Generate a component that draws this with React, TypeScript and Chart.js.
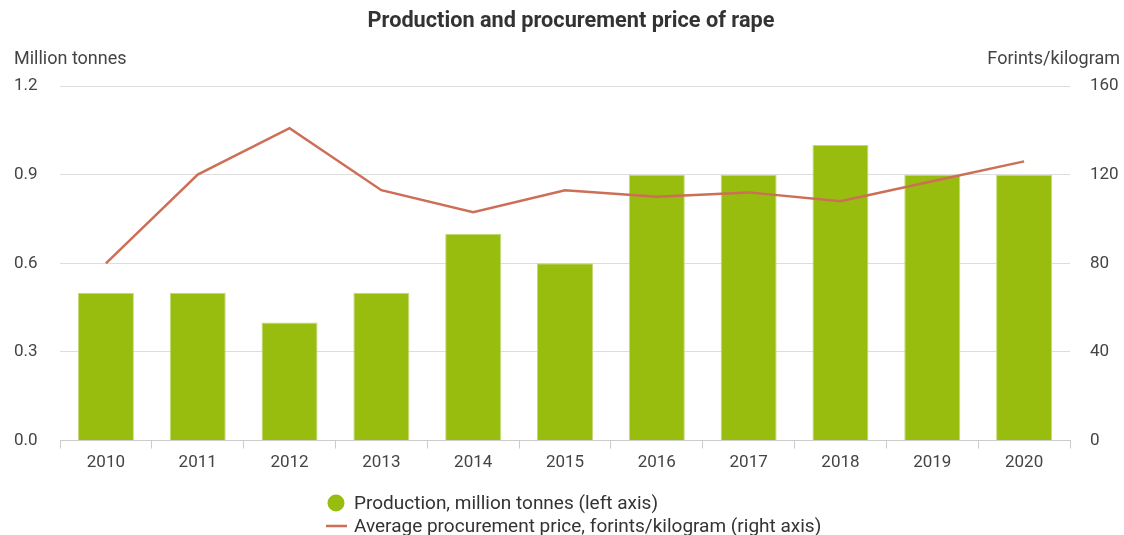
import React, { useEffect, useRef } from "react";
import { Chart, registerables } from "chart.js";

Chart.register(...registerables);

const years = ["2010", "2011", "2012", "2013", "2014", "2015", "2016", "2017", "2018", "2019", "2020"];
const production = [0.5, 0.5, 0.4, 0.5, 0.7, 0.6, 0.9, 0.9, 1.0, 0.9, 0.9];
const price = [80, 120, 141, 113, 103, 113, 110, 112, 108, 117, 126];
const title = "Production and procurement price of rape";
const leftAxisTitle = "Million tonnes";
const rightAxisTitle = "Forints/kilogram";
const productionLabel = "Production, million tonnes (left axis)";
const priceLabel = "Average procurement price, forints/kilogram (right axis)";

const FONT = "Roboto, 'Noto Sans', sans-serif";
const GREEN = "#98bd0e";
const RED = "#cd6f57";

export default function App() {
  const ref = useRef<HTMLCanvasElement | null>(null);
  useEffect(() => {
    document.body.style.margin = "0";
    const canvas = ref.current!;
    const overlay = {
      id: "overlay",
      afterDraw(chart: any) {
        const ctx = chart.ctx;
        ctx.save();
        ctx.fillStyle = "#333";
        ctx.font = `bold 21.7px ${FONT}`;
        ctx.textAlign = "center";
        ctx.textBaseline = "middle";
        ctx.fillText(title, 571, 22);
        ctx.font = `18px ${FONT}`;
        ctx.fillStyle = "#444";
        ctx.textAlign = "left";
        ctx.fillText(leftAxisTitle, 14, 59);
        ctx.textAlign = "right";
        ctx.fillText(rightAxisTitle, 1120, 59);
        // legend
        ctx.font = `19px ${FONT}`;
        ctx.fillStyle = GREEN;
        ctx.beginPath();
        ctx.arc(336, 503, 8.5, 0, Math.PI * 2);
        ctx.fill();
        ctx.strokeStyle = RED;
        ctx.lineWidth = 2.5;
        ctx.beginPath();
        ctx.moveTo(326, 526);
        ctx.lineTo(347, 526);
        ctx.stroke();
        ctx.fillStyle = "#333";
        ctx.textAlign = "left";
        ctx.fillText(productionLabel, 354, 504);
        ctx.fillText(priceLabel, 354, 527);
        ctx.restore();
      },
    };
    const chart = new Chart(canvas, {
      data: {
        labels: years,
        datasets: [
          {
            type: "line",
            label: priceLabel,
            data: price,
            yAxisID: "y1",
            borderColor: RED,
            borderWidth: 2.5,
            pointRadius: 0,
            tension: 0,
            order: 0,
          },
          {
            type: "bar",
            label: productionLabel,
            data: production,
            yAxisID: "y",
            backgroundColor: GREEN,
            borderColor: "#c4da7a",
            borderWidth: 1,
            barPercentage: 0.61,
            categoryPercentage: 1,
            order: 1,
          },
        ],
      } as any,
      plugins: [overlay],
      options: {
        animation: false,
        responsive: false,
        maintainAspectRatio: false,
        layout: { padding: { top: 86, left: 14, right: 4, bottom: 58 } },
        plugins: { legend: { display: false }, title: { display: false }, tooltip: { enabled: false } },
        scales: {
          x: {
            offset: true,
            grid: { display: true, drawOnChartArea: false, drawTicks: true, tickLength: 8, color: "#cccccc", offset: true },
            border: { display: true, color: "#cccccc" },
            ticks: { color: "#444", font: { family: FONT, size: 17 }, padding: 4 },
          },
          y: {
            position: "left",
            min: 0,
            max: 1.2,
            afterFit(s: any) { s.width = 46; },
            grid: { color: "#dddddd", drawTicks: false },
            border: { display: false },
            ticks: {
              stepSize: 0.3,
              crossAlign: "far",
              padding: 10,
              color: "#444",
              font: { family: FONT, size: 17 },
              callback: (v: any) => Number(v).toFixed(1),
            },
          },
          y1: {
            position: "right",
            min: 0,
            max: 160,
            afterFit(s: any) { s.width = 50; },
            grid: { drawOnChartArea: false, drawTicks: false },
            border: { display: false },
            ticks: { stepSize: 40, padding: 20, color: "#444", font: { family: FONT, size: 17 } },
          },
        },
      } as any,
    });
    return () => chart.destroy();
  }, []);
  return <canvas ref={ref} width={1124} height={535} style={{ display: "block" }} />;
}
